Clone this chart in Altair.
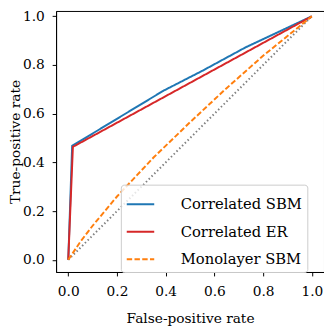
import altair as alt
import pandas as pd

series_names = ["Correlated SBM", "Correlated ER", "Monolayer SBM"]
colors = ["#1f77b4", "#d62728", "#ff7f0e"]
dashes = [[1, 0], [1, 0], [5.5, 2.4]]

sbm_fpr = [0.0, 0.016, 0.39, 0.55, 0.727, 1.0]
sbm_tpr = [0.0, 0.468, 0.694, 0.776, 0.872, 1.0]

er_fpr = [0.0, 0.019, 1.0]
er_tpr = [0.0, 0.464, 1.0]

mono_fpr = [0.0, 0.05, 0.1, 0.2, 0.35, 0.5, 0.65, 0.8, 1.0]
mono_tpr = [0.0, 0.075, 0.14, 0.26, 0.42, 0.565, 0.705, 0.838, 1.0]

diag_fpr = [0.0, 1.0]
diag_tpr = [0.0, 1.0]

rows = []
for name, xs, ys in [(series_names[0], sbm_fpr, sbm_tpr),
                     (series_names[1], er_fpr, er_tpr),
                     (series_names[2], mono_fpr, mono_tpr)]:
    for i, (a, b) in enumerate(zip(xs, ys)):
        rows.append({"series": name, "fpr": a, "tpr": b, "order": i})
df = pd.DataFrame(rows)
diag = pd.DataFrame({"fpr": diag_fpr, "tpr": diag_tpr})

FONT = "DejaVu Serif"
FS = 14
ticks = [0.0, 0.2, 0.4, 0.6, 0.8, 1.0]

xscale = alt.Scale(domain=[-0.05, 1.05], nice=False, zero=False)
yscale = alt.Scale(domain=[-0.05, 1.022], nice=False, zero=False)

xaxis = alt.Axis(values=ticks, format=".1f", title="False-positive rate", grid=False,
                 tickSize=4, tickColor="black", domainColor="black", labelPadding=9,
                 titlePadding=13)
yaxis = alt.Axis(values=ticks, format=".1f", title="True-positive rate", grid=False,
                 tickSize=4, tickColor="black", domainColor="black", labelPadding=8,
                 titlePadding=0)

diag_line = alt.Chart(diag).mark_line(color="gray", strokeDash=[1.5, 2.5], strokeWidth=2).encode(
    x=alt.X("fpr:Q", scale=xscale, axis=xaxis),
    y=alt.Y("tpr:Q", scale=yscale, axis=yaxis),
)

lines = alt.Chart(df).mark_line(strokeWidth=2).encode(
    x=alt.X("fpr:Q", scale=xscale, axis=xaxis),
    y=alt.Y("tpr:Q", scale=yscale, axis=yaxis),
    order="order:Q",
    color=alt.Color("series:N", scale=alt.Scale(domain=series_names, range=colors),
                    sort=series_names,
                    legend=alt.Legend(title=None, orient="none", legendX=66, legendY=177,
                                      symbolType="stroke", symbolSize=784, symbolStrokeWidth=2,
                                      labelFontSize=15, labelFont=FONT, labelOffset=26,
                                      labelExpr="datum.label + '\u2003'",
                                      rowPadding=5, padding=5, strokeColor="#cccccc",
                                      cornerRadius=3, fillColor="rgba(255,255,255,0.8)",
                                      labelColor="black")),
    strokeDash=alt.StrokeDash("series:N", scale=alt.Scale(domain=series_names, range=dashes),
                              sort=series_names, legend=None),
)

chart = alt.layer(diag_line, lines).properties(
    width=273, height=266,
    autosize=alt.AutoSizeParams(type="none"),
    padding={"left": 49, "top": 0, "right": 0, "bottom": 52},
    background="white",
).configure_view(stroke="black", strokeWidth=1).configure_axis(
    labelFont=FONT, titleFont=FONT, labelFontSize=FS, titleFontSize=FS,
    titleFontWeight="normal", labelColor="black", titleColor="black",
)

chart.save("out.html", embed_options={"renderer": "svg", "actions": False})
